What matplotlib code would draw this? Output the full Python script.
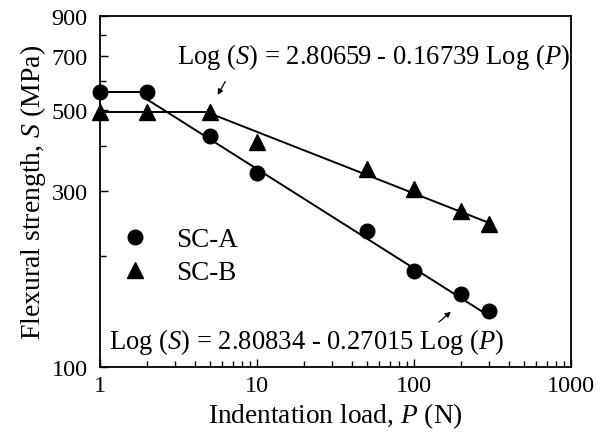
import numpy as np
import matplotlib.pyplot as plt
from matplotlib.ticker import FixedLocator, NullFormatter, LogLocator

plt.rcParams['font.family'] = ['Liberation Serif', 'DejaVu Serif']
plt.rcParams['mathtext.fontset'] = 'custom'
plt.rcParams['mathtext.rm'] = 'Liberation Serif'
plt.rcParams['mathtext.it'] = 'Liberation Serif:italic'

# measured data
load = [1, 2, 5, 10, 50, 100, 200, 300]
sc_a = [560, 560, 424, 337, 234, 182, 158, 142]
sc_b = [493, 493, 493, 409, 345, 305, 265, 245]

# fit coefficients
a_int, a_slope = 2.80834, 0.27015
b_int, b_slope = 2.80659, 0.16739

fig = plt.figure(figsize=(6, 4.35), dpi=100)
ax = fig.add_axes([0.1667, 0.154, 0.785, 0.807])
ax.set_xscale('log')
ax.set_yscale('log')

# plateau segments then fitted lines
ax.plot([1, 2], [sc_a[0], sc_a[1]], 'k-', lw=1.4)
pa = np.array([2, 300])
ax.plot(pa, 10 ** (a_int - a_slope * np.log10(pa)), 'k-', lw=1.4)
ax.plot([1, 5], [sc_b[0], sc_b[2]], 'k-', lw=1.4)
pb = np.array([5, 300])
ax.plot(pb, 10 ** (b_int - b_slope * np.log10(pb)), 'k-', lw=1.4)

ax.plot(load, sc_a, 'ko', ms=10.5, label='SC-A', clip_on=False)
ax.plot(load, sc_b, 'k^', ms=11, label='SC-B', clip_on=False)

ax.set_xlim(1, 1000)
ax.set_ylim(100, 900)
ax.xaxis.set_major_locator(FixedLocator([1, 10, 100, 1000]))
ax.xaxis.set_minor_locator(LogLocator(base=10, subs=np.arange(2, 10)))
ax.xaxis.set_minor_formatter(NullFormatter())
ax.set_xticklabels(['1', '10', '100', '1000'])
ax.yaxis.set_major_locator(FixedLocator([100, 300, 500, 700, 900]))
ax.yaxis.set_minor_locator(FixedLocator([200, 400, 600, 800]))
ax.yaxis.set_minor_formatter(NullFormatter())
ax.set_yticklabels(['100', '300', '500', '700', '900'])
ax.tick_params(which='both', direction='in', labelsize=17.5, width=1)
ax.tick_params(which='major', length=6)
ax.tick_params(axis='y', which='major', pad=9)
ax.tick_params(axis='x', which='major', pad=6)
ax.tick_params(which='minor', length=4)
for s in ax.spines.values():
    s.set_linewidth(1.3)

ax.set_xlabel('Indentation load, $\\it{P}$ (N)', fontsize=19.7, labelpad=3)
ax.set_ylabel('Flexural strength, $\\it{S}$ (MPa)', fontsize=20, labelpad=2)

ax.text(0.998, 0.885, 'Log ($\\it{S}$) = 2.80659 - 0.16739 Log ($\\it{P}$)',
        transform=ax.transAxes, ha='right', va='center', fontsize=19.2)
ax.annotate('', xy=(5.5, 541), xytext=(6.4, 606),
            arrowprops=dict(arrowstyle='-|>', color='k', lw=0.9, mutation_scale=8))
ax.text(0.02, 0.075, 'Log ($\\it{S}$) = 2.80834 - 0.27015 Log ($\\it{P}$)',
        transform=ax.transAxes, ha='left', va='center', fontsize=19.2)
ax.annotate('', xy=(177, 143), xytext=(140, 131),
            arrowprops=dict(arrowstyle='-|>', color='k', lw=0.9, mutation_scale=8))

ax.legend(loc='upper left', bbox_to_anchor=(0.0, 0.452), frameon=False, fontsize=19.5,
          handlelength=1.2, handletextpad=0.9, labelspacing=0.3, borderaxespad=0.3)

fig.savefig('out.png', dpi=100)
